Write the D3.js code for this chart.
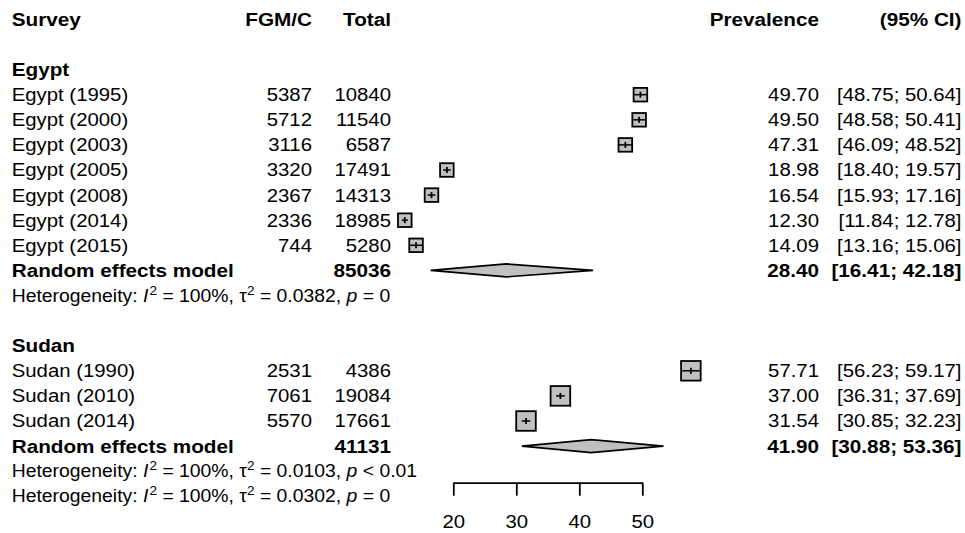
<!DOCTYPE html>
<html>
<head>
<meta charset="utf-8">
<script src="https://cdn.jsdelivr.net/npm/d3@7"></script>
<style>
  html, body { margin: 0; padding: 0; background: #fff; }
  svg { display: block; }
  text { font-family: "Liberation Sans", Arial, sans-serif; fill: #000; }
</style>
</head>
<body>
<svg id="chart" width="965" height="533"></svg>
<script>
// ---------------- DATA ----------------
const headers = ["Survey", "FGM/C", "Total", "Prevalence", "(95% CI)"];

const egyptStudies = ["Egypt (1995)", "Egypt (2000)", "Egypt (2003)", "Egypt (2005)", "Egypt (2008)", "Egypt (2014)", "Egypt (2015)"];
const egyptEvents  = [5387, 5712, 3116, 3320, 2367, 2336, 744];
const egyptTotals  = [10840, 11540, 6587, 17491, 14313, 18985, 5280];
const egyptPrev    = [49.70, 49.50, 47.31, 18.98, 16.54, 12.30, 14.09];
const egyptLower   = [48.75, 48.58, 46.09, 18.40, 15.93, 11.84, 13.16];
const egyptUpper   = [50.64, 50.41, 48.52, 19.57, 17.16, 12.78, 15.06];
const egyptWeights = [14.3, 14.3, 14.3, 14.3, 14.3, 14.3, 14.2];
const egyptModel   = [28.40, 16.41, 42.18];   // estimate, lower, upper
const egyptModelTotal = 85036;
const egyptHet     = ["100%", "0.0382", "= 0"];

const sudanStudies = ["Sudan (1990)", "Sudan (2010)", "Sudan (2014)"];
const sudanEvents  = [2531, 7061, 5570];
const sudanTotals  = [4386, 19084, 17661];
const sudanPrev    = [57.71, 37.00, 31.54];
const sudanLower   = [56.23, 36.31, 30.85];
const sudanUpper   = [59.17, 37.69, 32.23];
const sudanWeights = [33.3, 33.4, 33.3];
const sudanModel   = [41.90, 30.88, 53.36];
const sudanModelTotal = 41131;
const sudanHet     = ["100%", "0.0103", "< 0.01"];

const overallHet   = ["100%", "0.0302", "= 0"];

const axisTicks = [20, 30, 40, 50];

// ---------------- LAYOUT ----------------
const svg = d3.select("#chart");
const SX = 1.10;          // horizontal stretch of the reference text
const SXB = 1.12;         // stretch for bold text
const FS = 18.5;          // main font size
const FS_HET = 17.6;      // heterogeneity font size
const rowY = i => 19.4 + 25.1 * i;

const colSurvey = 11.7, colEvents = 312, colTotal = 391, colPrev = 819, colCI = 961.5;

// x scale: value -> pixel (20 -> 453.3, 50 -> 642.3)
const x = d3.scaleLinear().domain([20, 50]).range([453.3, 642.3]);
const boxSize = d3.scaleSqrt().domain([14.3, 33.3]).range([13.6, 19.6]);

function txt(xp, yc, s, opts = {}) {
  const t = svg.append("text")
    .attr("transform", `translate(${xp},${yc}) scale(${opts.bold ? SXB : SX},1)`)
    .attr("dy", "0.35em")
    .attr("text-anchor", opts.anchor || "start")
    .style("font-size", (opts.size || FS) + "px")
    .style("font-weight", opts.bold ? "bold" : "normal")
    .text(s);
  return t;
}

function hetLine(yc, het) {
  const t = svg.append("text")
    .attr("transform", `translate(${colSurvey},${yc}) scale(${SX},1)`)
    .attr("dy", "0.35em")
    .style("font-size", FS_HET + "px");
  t.append("tspan").text("Heterogeneity: ");
  t.append("tspan").style("font-style", "italic").text("I");
  t.append("tspan").attr("dx", 1).attr("dy", -7).style("font-size", (FS_HET * 0.7) + "px").text("2");
  t.append("tspan").attr("dy", 7).text(" = " + het[0] + ", \u03c4");
  t.append("tspan").attr("dy", -7).style("font-size", (FS_HET * 0.7) + "px").text("2");
  t.append("tspan").attr("dy", 7).text(" = " + het[1] + ", ");
  t.append("tspan").style("font-style", "italic").text("p");
  t.append("tspan").text(" " + het[2]);
}

const fmt = v => v.toFixed(2);

// Header
txt(colSurvey, rowY(0), headers[0], {bold: true});
txt(colEvents, rowY(0), headers[1], {bold: true, anchor: "end"});
txt(colTotal, rowY(0), headers[2], {bold: true, anchor: "end"});
txt(colPrev, rowY(0), headers[3], {bold: true, anchor: "end"});
txt(colCI, rowY(0), headers[4], {bold: true, anchor: "end"});

function drawGroup(startRow, name, studies, events, totals, prev, lower, upper, weights, model, modelTotal, het) {
  txt(colSurvey, rowY(startRow), name, {bold: true});
  studies.forEach((s, i) => {
    const y = rowY(startRow + 1 + i);
    txt(colSurvey, y, s);
    txt(colEvents, y, String(events[i]), {anchor: "end"});
    txt(colTotal, y, String(totals[i]), {anchor: "end"});
    txt(colPrev, y, fmt(prev[i]), {anchor: "end"});
    txt(colCI, y, "[" + fmt(lower[i]) + "; " + fmt(upper[i]) + "]", {anchor: "end"});

    const sz = boxSize(weights[i]);
    svg.append("rect")
      .attr("x", x(prev[i]) - sz / 2).attr("y", y - sz / 2)
      .attr("width", sz).attr("height", sz)
      .attr("fill", "#c0c0c0").attr("stroke", "#000").attr("stroke-width", 1.8);
    svg.append("line")
      .attr("x1", x(lower[i])).attr("x2", x(upper[i]))
      .attr("y1", y).attr("y2", y)
      .attr("stroke", "#000").attr("stroke-width", 1.5);
    svg.append("line")
      .attr("x1", x(prev[i])).attr("x2", x(prev[i]))
      .attr("y1", y - 3).attr("y2", y + 3)
      .attr("stroke", "#000").attr("stroke-width", 1.8);
  });
  const mr = startRow + 1 + studies.length;
  const my = rowY(mr);
  txt(colSurvey, my, "Random effects model", {bold: true});
  txt(colTotal, my, String(modelTotal), {bold: true, anchor: "end"});
  txt(colPrev, my, fmt(model[0]), {bold: true, anchor: "end"});
  txt(colCI, my, "[" + fmt(model[1]) + "; " + fmt(model[2]) + "]", {bold: true, anchor: "end"});
  const h = 6.5;
  svg.append("path")
    .attr("d", `M${x(model[1])},${my} L${x(model[0])},${my - h} L${x(model[2])},${my} L${x(model[0])},${my + h} Z`)
    .attr("fill", "#c0c0c0").attr("stroke", "#000").attr("stroke-width", 1.7)
    .attr("stroke-linejoin", "miter");
  hetLine(rowY(mr + 1), het);
  return mr + 1;
}

let last = drawGroup(2, "Egypt", egyptStudies, egyptEvents, egyptTotals, egyptPrev, egyptLower, egyptUpper, egyptWeights, egyptModel, egyptModelTotal, egyptHet);
last = drawGroup(last + 2, "Sudan", sudanStudies, sudanEvents, sudanTotals, sudanPrev, sudanLower, sudanUpper, sudanWeights, sudanModel, sudanModelTotal, sudanHet);
hetLine(rowY(last + 1), overallHet);

// Axis
const axis = d3.axisBottom(x).tickValues(axisTicks).tickSize(13).tickSizeOuter(0).tickPadding(19);
const ag = svg.append("g").attr("transform", "translate(0,482.7)").call(axis);
ag.select(".domain").attr("stroke", "#000").attr("stroke-width", 1.8);
ag.selectAll(".tick line").attr("stroke", "#000").attr("stroke-width", 1.8);
ag.selectAll(".tick text")
  .attr("transform", `scale(${SX},1)`)
  .style("font-size", FS + "px")
  .style("font-family", "'Liberation Sans', Arial, sans-serif")
  .attr("fill", "#000");
</script>
</body>
</html>
